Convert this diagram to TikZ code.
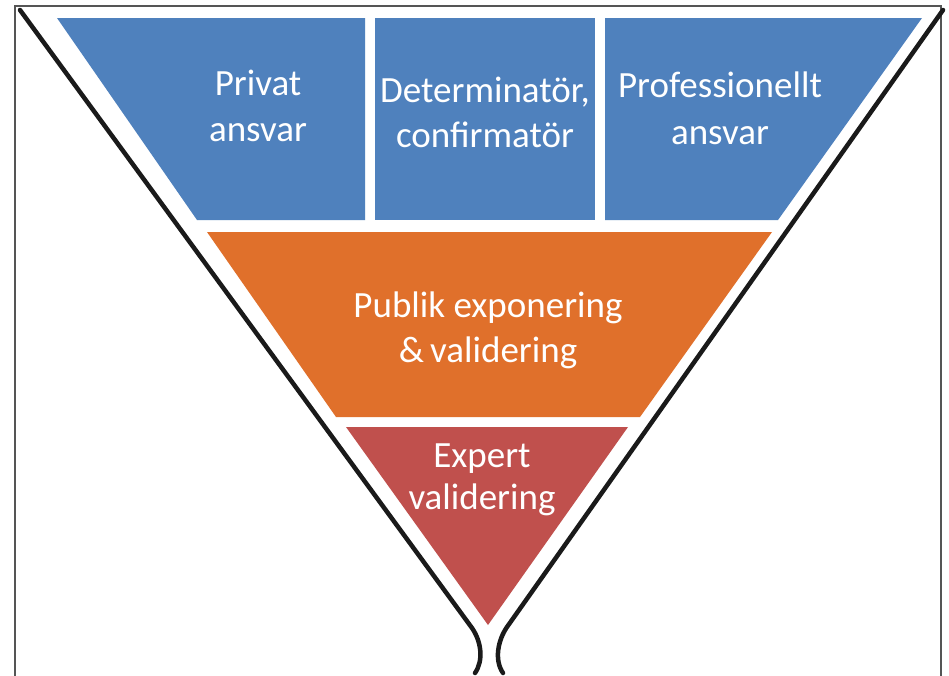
\documentclass[tikz,border=0pt]{standalone}
\usepackage{fontspec}
\setmainfont{Carlito}
\definecolor{cblue}{HTML}{4F81BD}
\definecolor{corange}{HTML}{E0702B}
\definecolor{cred}{HTML}{C0504D}
\definecolor{cline}{HTML}{1A1A1A}
\definecolor{cframe}{HTML}{555555}
\begin{document}
\begin{tikzpicture}[x=1pt,y=-1pt,
  lbl/.style={text=white,font=\fontsize{37}{46}\selectfont,anchor=base,inner sep=0pt},
  funnel/.style={draw=cline,line width=4.5pt,line cap=round,line join=round},
  blockfill/.style={fill=#1,draw=none}]
\useasboundingbox (0,0) rectangle (949,675);
\clip (0,0) rectangle (949,675);
\fill[white] (0,0) rectangle (949,675);
% frame
\draw[cframe,line width=1.8pt] (15,6) rectangle (941,690);
% blue blocks
\fill[cblue] (57,18) -- (365,18) -- (365,220) -- (197,220) -- cycle;
\fill[cblue] (375,18) -- (595,18) -- (595,220) -- (375,220) -- cycle;
\fill[cblue] (605,18) -- (922,18) -- (778,220) -- (605,220) -- cycle;
% orange
\fill[corange] (207,232) -- (772,232) -- (640,417) -- (336,417) -- cycle;
% red
\fill[cred] (346,427) -- (628,427) -- (488,625) -- cycle;
% funnel lines
\coordinate (L0) at (20,10);
\coordinate (L1) at (472,628);
\coordinate (L2) at (475,673);
\coordinate (R0) at (943,10);
\coordinate (R1) at (507,627);
\coordinate (R2) at (503,673);
\draw[funnel] (L0) -- (L1) .. controls (481,641) and (484,660) .. (L2);
\draw[funnel] (R0) -- (R1) .. controls (498,640) and (494,660) .. (R2);
% labels
\node[lbl] (p1) at (258,95) {Privat};
\node[lbl] (p2) at (258,141) {ansvar};
\node[lbl] (d1) at (485,102) {Determinatör,};
\node[lbl] (d2) at (485,147) {confirmatör};
\node[lbl] (f1) at (720,97) {Professionellt};
\node[lbl] (f2) at (720,144) {ansvar};
\node[lbl] (o1) at (488,317) {Publik exponering};
\node[lbl] (o2) at (488,362) {\&\,validering};
\node[lbl] (e1) at (482,467) {Expert};
\node[lbl] (e2) at (482,509) {validering};
\end{tikzpicture}
\end{document}
